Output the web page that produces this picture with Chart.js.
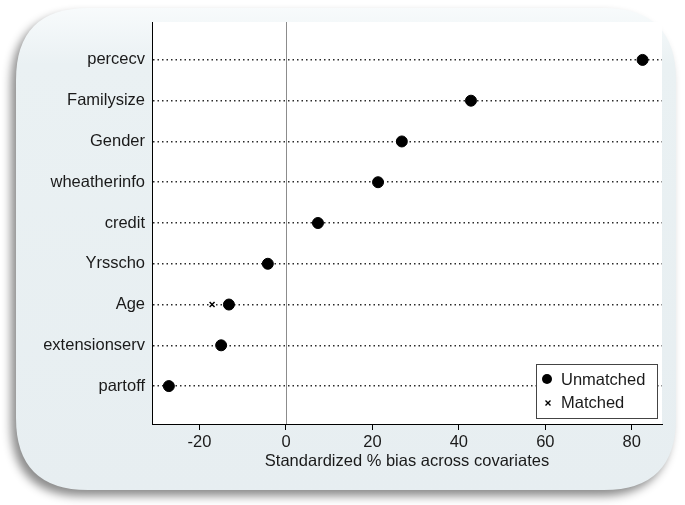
<!DOCTYPE html>
<html>
<head>
<meta charset="utf-8">
<script src="https://cdn.jsdelivr.net/npm/chart.js@4.4.1/dist/chart.umd.min.js"></script>
<style>
  html, body { margin: 0; padding: 0; background: #fff; }
  #wrap { width: 685px; height: 505px; position: relative; }
</style>
</head>
<body>
<div id="wrap"><canvas id="bias-chart" width="685" height="505"></canvas></div>
<script>
// covariates, top to bottom
const covariates = ['percecv', 'Familysize', 'Gender', 'wheatherinfo', 'credit', 'Yrsscho', 'Age', 'extensionserv', 'partoff'];
const unmatched = [82.5, 42.8, 26.8, 21.3, 7.4, -4.2, -13.2, -15.0, -27.1];
const matched = [null, null, null, null, null, null, -17.1, null, null];
const xTicks = [-20, 0, 20, 40, 60, 80];

// covariate i sits at y = n - i, so the first one is on top
const n = covariates.length;
const toPoints = vals => vals.map((v, i) => ({ x: v, y: n - i })).filter(p => p.x !== null);

const FONT = '"Liberation Sans", Arial, sans-serif';

function roundRect(ctx, x, y, w, h, r) {
    ctx.beginPath();
    ctx.moveTo(x + r, y);
    ctx.lineTo(x + w - r, y);
    ctx.quadraticCurveTo(x + w, y, x + w, y + r);
    ctx.lineTo(x + w, y + h - r);
    ctx.quadraticCurveTo(x + w, y + h, x + w - r, y + h);
    ctx.lineTo(x + r, y + h);
    ctx.quadraticCurveTo(x, y + h, x, y + h - r);
    ctx.lineTo(x, y + r);
    ctx.quadraticCurveTo(x, y, x + r, y);
    ctx.closePath();
}

// rounded panel behind everything + white plot region + zero line
const framePlugin = {
    id: 'frame',
    beforeDraw(chart) {
        const ctx = chart.ctx;
        const a = chart.chartArea;
        ctx.save();
        ctx.fillStyle = '#ffffff';
        ctx.fillRect(0, 0, chart.width, chart.height);
        ctx.shadowColor = 'rgba(0,0,0,0.45)';
        ctx.shadowBlur = 10;
        ctx.shadowOffsetX = -5;
        ctx.shadowOffsetY = 6;
        const g = ctx.createLinearGradient(0, 6, 0, 492);
        g.addColorStop(0, '#f8fbfc');
        g.addColorStop(0.12, '#eaf1f3');
        g.addColorStop(1, '#e7eef1');
        ctx.fillStyle = g;
        roundRect(ctx, 16, 8, 660, 482, 72);
        ctx.fill();
        ctx.restore();
        ctx.save();
        ctx.fillStyle = '#ffffff';
        ctx.fillRect(a.left, a.top, a.right - a.left, a.bottom - a.top);
        // vertical reference line at zero bias
        const x0 = Math.round(chart.scales.x.getPixelForValue(0)) + 0.5;
        ctx.strokeStyle = '#8c8c8c';
        ctx.lineWidth = 1;
        ctx.beginPath();
        ctx.moveTo(x0, a.top);
        ctx.lineTo(x0, a.bottom);
        ctx.stroke();
        ctx.restore();
    }
};

// legend box inside the plot, lower right
const legendPlugin = {
    id: 'boxLegend',
    afterDraw(chart) {
        const ctx = chart.ctx;
        const x = 536, y = 364, w = 121, h = 54;
        ctx.save();
        ctx.fillStyle = '#ffffff';
        ctx.fillRect(x, y, w, h);
        ctx.strokeStyle = '#444';
        ctx.lineWidth = 1;
        ctx.strokeRect(x + 0.5, y + 0.5, w, h);
        ctx.font = '16.5px ' + FONT;
        ctx.fillStyle = '#1a1a1a';
        ctx.textBaseline = 'middle';
        ctx.fillText(chart.data.datasets[0].label, 561, 380);
        ctx.fillText(chart.data.datasets[1].label, 561, 403);
        ctx.beginPath();
        ctx.arc(547, 379, 5, 0, Math.PI * 2);
        ctx.fillStyle = '#000';
        ctx.fill();
        ctx.strokeStyle = '#000';
        ctx.lineWidth = 1.4;
        ctx.beginPath();
        ctx.moveTo(545.5, 400.5); ctx.lineTo(550.5, 405.5);
        ctx.moveTo(550.5, 400.5); ctx.lineTo(545.5, 405.5);
        ctx.stroke();
        ctx.restore();
    }
};

const ctx = document.getElementById('bias-chart');
new Chart(ctx, {
    type: 'scatter',
    data: {
        datasets: [{
            label: 'Unmatched',
            data: toPoints(unmatched),
            pointStyle: 'circle',
            pointRadius: 5.5,
            backgroundColor: '#000',
            borderColor: '#000'
        }, {
            label: 'Matched',
            data: toPoints(matched),
            pointStyle: 'crossRot',
            pointRadius: 3.5,
            borderWidth: 1.5,
            borderColor: '#000',
            backgroundColor: '#000'
        }]
    },
    options: {
        responsive: false,
        animation: false,
        layout: { padding: { top: 22, right: 23, bottom: 34, left: 0 } },
        plugins: {
            legend: { display: false },
            tooltip: { enabled: false }
        },
        scales: {
            x: {
                type: 'linear',
                min: -31,
                max: 87,
                afterBuildTicks: scale => { scale.ticks = xTicks.map(v => ({ value: v })); },
                afterFit: scale => { scale.height = 47; },
                border: { display: true, color: '#000', width: 1 },
                grid: {
                    drawOnChartArea: false,
                    color: '#000',
                    tickLength: 6,
                    lineWidth: 1
                },
                ticks: {
                    color: '#1a1a1a',
                    font: { family: FONT, size: 16.5 },
                    padding: 3
                },
                title: {
                    display: true,
                    text: 'Standardized % bias across covariates',
                    color: '#1a1a1a',
                    font: { family: FONT, size: 16.5 },
                    padding: { top: 0, bottom: 0 }
                }
            },
            y: {
                type: 'linear',
                min: 0.07,
                max: 9.93,
                afterBuildTicks: scale => { scale.ticks = covariates.map((c, i) => ({ value: n - i })); },
                afterFit: scale => { scale.width = 152; },
                border: { display: true, color: '#000', width: 1, dash: [1.5, 3] },
                grid: {
                    drawOnChartArea: true,
                    drawTicks: false,
                    color: '#2a2a2a',
                    lineWidth: 1.5
                },
                ticks: {
                    color: '#1a1a1a',
                    padding: 7,
                    font: { family: FONT, size: 16.5 },
                    callback: v => covariates[n - v]
                }
            }
        }
    },
    plugins: [framePlugin, legendPlugin]
});
</script>
</body>
</html>
